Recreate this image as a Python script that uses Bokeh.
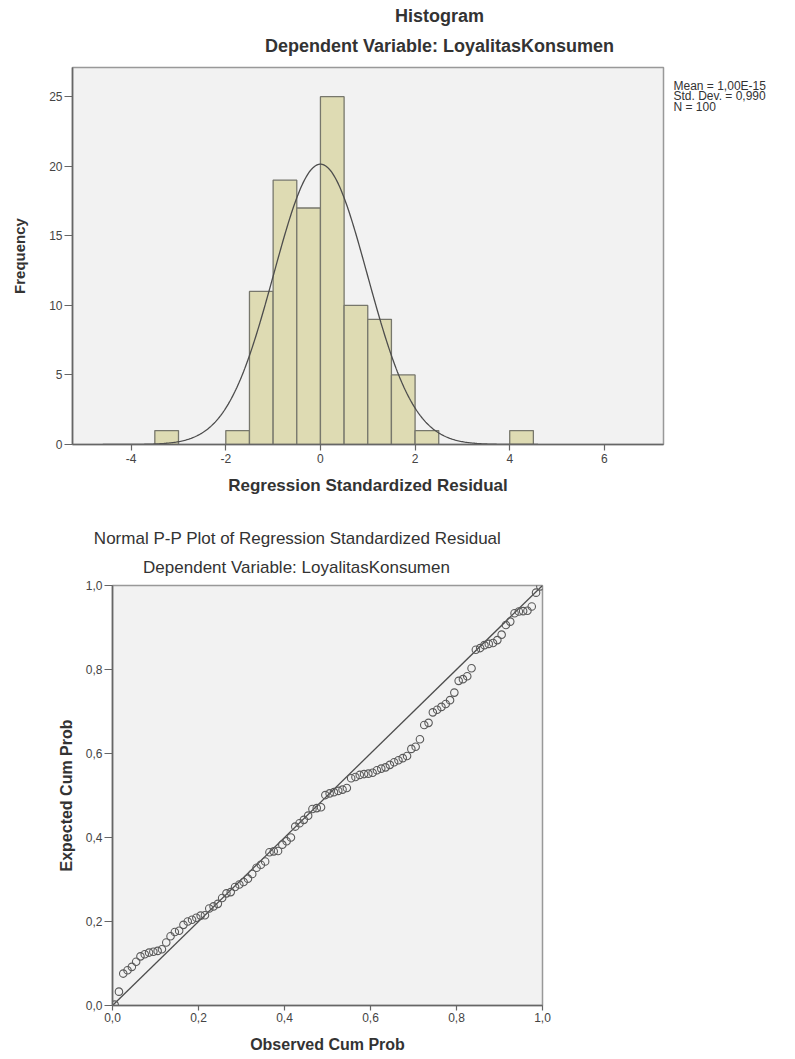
import numpy as np
from bokeh.plotting import figure
from bokeh.layouts import column, row
from bokeh.models import Label, FixedTicker, CustomJSTickFormatter, Range1d
from bokeh.embed import file_html
from bokeh.resources import INLINE

# ---------------- data ----------------
# Histogram of regression standardized residuals
bin_left = [-3.5, -2.0, -1.5, -1.0, -0.5, 0.0, 0.5, 1.0, 1.5, 2.0, 4.0]
bin_width = 0.5
counts = [1, 1, 11, 19, 17, 25, 10, 9, 5, 1, 1]
hist_mean = 1.00e-15
hist_sd = 0.990
hist_n = 100
hist_x_ticks = [-4, -2, 0, 2, 4, 6]
hist_y_ticks = [0, 5, 10, 15, 20, 25]
stats_lines = ["Mean = 1,00E-15", "Std. Dev. = 0,990", "N = 100"]

# Normal P-P plot
observed = [0.005, 0.015, 0.025, 0.035, 0.045, 0.055, 0.065, 0.075, 0.085, 0.095,
            0.105, 0.115, 0.125, 0.135, 0.145, 0.155, 0.165, 0.175, 0.185, 0.195,
            0.205, 0.215, 0.225, 0.235, 0.245, 0.255, 0.265, 0.275, 0.285, 0.295,
            0.305, 0.315, 0.325, 0.335, 0.345, 0.355, 0.365, 0.375, 0.385, 0.395,
            0.405, 0.415, 0.425, 0.435, 0.445, 0.455, 0.465, 0.475, 0.485, 0.495,
            0.505, 0.515, 0.525, 0.535, 0.545, 0.555, 0.565, 0.575, 0.585, 0.595,
            0.605, 0.615, 0.625, 0.635, 0.645, 0.655, 0.665, 0.675, 0.685, 0.695,
            0.705, 0.715, 0.725, 0.735, 0.745, 0.755, 0.765, 0.775, 0.785, 0.795,
            0.805, 0.815, 0.825, 0.835, 0.845, 0.855, 0.865, 0.875, 0.885, 0.895,
            0.905, 0.915, 0.925, 0.935, 0.945, 0.955, 0.965, 0.975, 0.985, 0.995]
expected = [0.002, 0.033, 0.076, 0.084, 0.092, 0.104, 0.117, 0.122, 0.126, 0.128,
            0.130, 0.134, 0.150, 0.165, 0.175, 0.178, 0.192, 0.200, 0.204, 0.209,
            0.214, 0.215, 0.231, 0.236, 0.242, 0.256, 0.267, 0.270, 0.282, 0.288,
            0.294, 0.302, 0.313, 0.328, 0.335, 0.343, 0.365, 0.367, 0.368, 0.383,
            0.391, 0.400, 0.426, 0.434, 0.442, 0.452, 0.468, 0.470, 0.472, 0.501,
            0.505, 0.508, 0.511, 0.514, 0.518, 0.541, 0.544, 0.549, 0.551, 0.552,
            0.554, 0.560, 0.564, 0.567, 0.573, 0.579, 0.584, 0.589, 0.594, 0.611,
            0.616, 0.634, 0.668, 0.673, 0.698, 0.704, 0.711, 0.718, 0.727, 0.745,
            0.773, 0.777, 0.784, 0.803, 0.847, 0.851, 0.858, 0.861, 0.863, 0.870,
            0.883, 0.906, 0.914, 0.934, 0.938, 0.939, 0.940, 0.950, 0.983, 0.998]
pp_ticks = [0.0, 0.2, 0.4, 0.6, 0.8, 1.0]

# ---------------- styles ----------------
FONT = "Liberation Sans"
TXT = "#333333"
AX = "#666666"


def style_axes(p, tick_out_x, tick_out_y):
    p.xgrid.visible = False
    p.ygrid.visible = False
    p.background_fill_color = "#f2f2f2"
    p.border_fill_color = "white"
    p.outline_line_color = "#999999"
    p.outline_line_width = 1.5
    for ax in (p.xaxis[0], p.yaxis[0]):
        ax.axis_line_color = AX
        ax.axis_line_width = 1.6
        ax.major_tick_line_color = AX
        ax.major_tick_line_width = 1.2
        ax.major_tick_in = 0
        ax.minor_tick_line_color = None
        ax.major_label_text_font = FONT
        ax.major_label_text_font_size = "12px"
        ax.major_label_text_color = "#444444"
        ax.axis_label_text_font = FONT
        ax.axis_label_text_font_style = "bold"
        ax.axis_label_text_color = TXT
    p.xaxis[0].major_tick_out = tick_out_x
    p.yaxis[0].major_tick_out = tick_out_y


def text_fig(w, h):
    f = figure(width=w, height=h, x_range=Range1d(0, 1), y_range=Range1d(0, 1),
               x_axis_type=None, y_axis_type=None, output_backend="svg",
               toolbar_location=None, min_border_left=0, min_border_right=0,
               min_border_top=0, min_border_bottom=0)
    f.outline_line_color = None
    f.background_fill_color = "white"
    f.border_fill_color = "white"
    f.xgrid.visible = False
    f.ygrid.visible = False
    f.frame_align = False
    return f


def add_text(p, x, y, text, size, bold=False, align="center"):
    p.add_layout(Label(x=x, y=y, x_units="screen", y_units="screen", text=text,
                       text_align=align, text_baseline="middle",
                       text_font=FONT, text_font_size=size,
                       text_font_style="bold" if bold else "normal",
                       text_color=TXT))


# ---------------- histogram ----------------
t1 = text_fig(795, 59)
add_text(t1, 439, 44, "Histogram", "18px", bold=True)
add_text(t1, 439, 14, "Dependent Variable: LoyalitasKonsumen", "18px", bold=True)

p1 = figure(width=665, height=438, x_range=Range1d(-5.24, 7.25), y_range=Range1d(0, 27.1),
            output_backend="svg", toolbar_location=None,
            min_border_left=72, min_border_right=2, min_border_top=8, min_border_bottom=50)
p1.frame_align = False
style_axes(p1, 6, 8)
bin_right = [b + bin_width for b in bin_left]
p1.quad(left=bin_left, right=bin_right, top=counts, bottom=0,
        fill_color="#dedbb3", line_color="#77776c", line_width=1.3)

xs = np.linspace(-4.6, 4.6, 400)
ys = hist_n * bin_width * np.exp(-0.5 * ((xs - hist_mean) / hist_sd) ** 2) / (hist_sd * np.sqrt(2 * np.pi))
p1.line(xs, ys, line_color="#4d4d4d", line_width=1.3)

p1.xaxis.ticker = FixedTicker(ticks=hist_x_ticks)
p1.yaxis.ticker = FixedTicker(ticks=hist_y_ticks)
p1.xaxis.formatter = CustomJSTickFormatter(code="return tick.toFixed(0);")
p1.yaxis.formatter = CustomJSTickFormatter(code="return tick.toFixed(0);")
p1.xaxis.axis_label = "Regression Standardized Residual"
p1.xaxis.axis_label_text_font_size = "17px"
p1.xaxis.major_label_standoff = 3
p1.xaxis.axis_label_standoff = 10
p1.yaxis.axis_label = "Frequency"
p1.yaxis.axis_label_text_font_size = "15px"
p1.yaxis.major_label_standoff = 2
p1.yaxis.axis_label_standoff = 18

s1 = text_fig(130, 438)
for k, line in enumerate(stats_lines):
    add_text(s1, 8, 412 - 10.5 * k, line, "12px", align="left")

# ---------------- P-P plot ----------------
t2 = text_fig(795, 82)
add_text(t2, 297, 41, "Normal P-P Plot of Regression Standardized Residual", "17px")
add_text(t2, 296, 12, "Dependent Variable: LoyalitasKonsumen", "17px")

p2 = figure(width=795, height=476, x_range=Range1d(0, 1), y_range=Range1d(0, 1),
            output_backend="svg", toolbar_location=None,
            min_border_left=112, min_border_right=253, min_border_top=6, min_border_bottom=50)
p2.frame_align = False
style_axes(p2, 5, 8)
p2.line([0, 1], [0, 1], line_color="#4d4d4d", line_width=1.3)
p2.scatter(observed, expected, marker="circle", size=7.5, fill_color=None,
           line_color="#5a5a5a", line_width=1.1)

p2.xaxis.ticker = FixedTicker(ticks=pp_ticks)
p2.yaxis.ticker = FixedTicker(ticks=pp_ticks)
fmt = "return tick.toFixed(1).replace('.', ',');"
p2.xaxis.formatter = CustomJSTickFormatter(code=fmt)
p2.yaxis.formatter = CustomJSTickFormatter(code=fmt)
p2.xaxis.axis_label = "Observed Cum Prob"
p2.xaxis.axis_label_text_font_size = "16px"
p2.xaxis.major_label_standoff = 2
p2.xaxis.axis_label_standoff = 11
p2.yaxis.axis_label = "Expected Cum Prob"
p2.yaxis.axis_label_text_font_size = "16px"
p2.yaxis.major_label_standoff = 2
p2.yaxis.axis_label_standoff = 8

layout = column(t1, row(p1, s1), t2, p2)
open("out.html", "w").write(file_html(layout, INLINE))
